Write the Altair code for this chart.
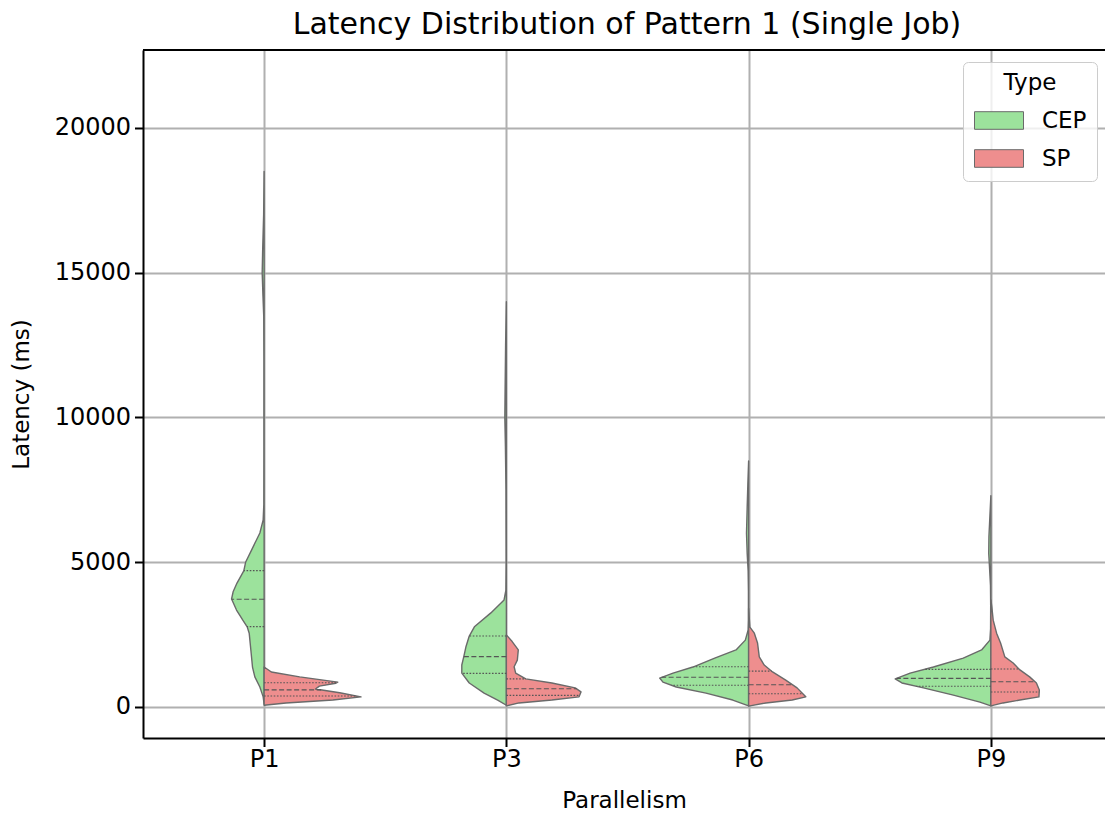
import json

import altair as alt
import numpy as np
import pandas as pd

categories = ["P1", "P3", "P6", "P9"]
types = ["CEP", "SP"]
type_colors = ["#9CE29C", "#EE8E8E"]

# Split-violin outlines: latency (ms) and relative kernel density (1 = widest half)
p1_cep_latency = [18500, 17000, 15800, 15000, 14200, 13500, 12000, 9000, 7000, 6460, 6010, 5420,
                  5010, 4700, 4280, 3980, 3730, 3350, 3000, 2770, 2550, 1970, 1380, 1040, 690, 350, 100]
p1_cep_density = [0, 0.005, 0.015, 0.02, 0.012, 0.004, 0.002, 0.002, 0.003, 0.01, 0.044, 0.13,
                  0.19, 0.21, 0.28, 0.32, 0.336, 0.285, 0.22, 0.175, 0.154, 0.137, 0.12, 0.096, 0.044, 0.01, 0]
p1_sp_latency = [1380, 1210, 1040, 860, 820, 720, 620, 490, 350, 240, 140, 60]
p1_sp_density = [0, 0.075, 0.367, 0.76, 0.74, 0.57, 0.53, 0.78, 1.0, 0.71, 0.226, 0]

p3_cep_latency = [14000, 12500, 11000, 10000, 9000, 7500, 5000, 4040, 3700, 3250, 2770, 2450,
                  2070, 1730, 1450, 1170, 830, 480, 240, 60]
p3_cep_density = [0, 0.008, 0.013, 0.016, 0.01, 0.004, 0.002, 0.005, 0.024, 0.16, 0.33, 0.383,
                  0.418, 0.44, 0.46, 0.46, 0.383, 0.23, 0.09, 0]
p3_sp_latency = [2490, 2260, 1970, 1620, 1390, 1170, 970, 830, 660, 520, 350, 240, 140, 40]
p3_sp_density = [0, 0.06, 0.123, 0.113, 0.08, 0.096, 0.2, 0.47, 0.71, 0.77, 0.75, 0.47, 0.13, 0]

p6_cep_latency = [8500, 7700, 6900, 6000, 5300, 4700, 4000, 3000, 2660, 2310, 1970, 1690, 1380,
                  1170, 1000, 860, 690, 480, 240, 40]
p6_cep_density = [0, 0.008, 0.015, 0.022, 0.015, 0.005, 0.002, 0.002, 0.005, 0.034, 0.13, 0.35, 0.575,
                  0.78, 0.918, 0.884, 0.747, 0.44, 0.164, 0]
p6_sp_latency = [3400, 3000, 2760, 2550, 2210, 1730, 1450, 1210, 930, 660, 350, 240, 140, 30]
p6_sp_density = [0, 0.008, 0.013, 0.059, 0.092, 0.11, 0.161, 0.247, 0.383, 0.5, 0.59, 0.45, 0.178, 0]

p9_cep_latency = [7300, 6600, 5900, 5300, 4700, 4200, 3500, 2700, 2310, 1970, 1690, 1380, 1170,
                  970, 830, 660, 410, 170, 40]
p9_cep_density = [0, 0.01, 0.02, 0.022, 0.012, 0.004, 0.002, 0.003, 0.01, 0.096, 0.285, 0.593, 0.833,
                  0.987, 0.918, 0.696, 0.387, 0.113, 0]
p9_sp_latency = [3700, 3450, 3000, 2550, 2210, 1730, 1520, 1280, 1040, 830, 590, 350, 240, 140, 40]
p9_sp_density = [0, 0.01, 0.024, 0.059, 0.1, 0.144, 0.23, 0.3, 0.4, 0.47, 0.5, 0.496, 0.3, 0.126, 0]

# Quartiles (Q1, median, Q3) in ms
p1_cep_quartiles = [2775, 3720, 4710]
p1_sp_quartiles = [380, 590, 840]
p3_cep_quartiles = [1160, 1740, 2450]
p3_sp_quartiles = [400, 630, 970]
p6_cep_quartiles = [750, 1025, 1390]
p6_sp_quartiles = [460, 770, 1240]
p9_cep_quartiles = [715, 990, 1300]
p9_sp_quartiles = [520, 870, 1310]

groups = [
    ("P1", "CEP", p1_cep_latency, p1_cep_density, p1_cep_quartiles),
    ("P1", "SP", p1_sp_latency, p1_sp_density, p1_sp_quartiles),
    ("P3", "CEP", p3_cep_latency, p3_cep_density, p3_cep_quartiles),
    ("P3", "SP", p3_sp_latency, p3_sp_density, p3_sp_quartiles),
    ("P6", "CEP", p6_cep_latency, p6_cep_density, p6_cep_quartiles),
    ("P6", "SP", p6_sp_latency, p6_sp_density, p6_sp_quartiles),
    ("P9", "CEP", p9_cep_latency, p9_cep_density, p9_cep_quartiles),
    ("P9", "SP", p9_sp_latency, p9_sp_density, p9_sp_quartiles),
]

HALF_WIDTH = 0.4          # widest half-violin, in category steps
PLOT_W, PLOT_H = 962, 688
STEP = 242.25             # pixels per category
X_MAX = -0.5 + PLOT_W / STEP
Y_DOMAIN = [-1071, 22694]
FONT = "DejaVu Sans"

area_rows, quart_rows = [], []
for cat, typ, lat, dens, quarts in groups:
    pos = categories.index(cat)
    sign = -1 if typ == "CEP" else 1
    order = np.argsort(lat)
    lat_sorted = np.asarray(lat, dtype=float)[order]
    dens_sorted = np.asarray(dens, dtype=float)[order]
    for l, d in zip(lat_sorted, dens_sorted):
        area_rows.append({"group": f"{cat}-{typ}", "type": typ, "latency": l,
                          "center": pos, "edge": pos + sign * d * HALF_WIDTH})
    for k, q in enumerate(quarts):
        w = float(np.interp(q, lat_sorted, dens_sorted)) * HALF_WIDTH
        quart_rows.append({"group": f"{cat}-{typ}", "latency": q, "center": pos,
                           "edge": pos + sign * w,
                           "kind": "median" if k == 1 else "quartile"})

area_df = pd.DataFrame(area_rows)
quart_df = pd.DataFrame(quart_rows)

x_scale = alt.Scale(domain=[-0.5, X_MAX], nice=False, zero=False)
y_scale = alt.Scale(domain=Y_DOMAIN, nice=False, zero=False)
label_expr = f"{json.dumps(categories)}[datum.value]"

x_axis = alt.Axis(values=[0, 1, 2, 3], labelExpr=label_expr, title="Parallelism",
                  titlePadding=18, labelPadding=1)
y_axis = alt.Axis(values=[0, 5000, 10000, 15000, 20000], format="d", title="Latency (ms)",
                  titlePadding=21)

# Wide rectangular legend swatch, drawn to the right of the symbol anchor
swatch = "M-1,-0.88L3.9,-0.88L3.9,0.88L-1,0.88Z"

legend = alt.Legend(
    orient="none", legendX=820, legendY=12, title="Type",
    titleFontSize=23, labelFontSize=23, titleFontWeight="normal",
    titleAnchor="middle", titleFont=FONT, labelFont=FONT,
    titleColor="black", labelColor="black",
    symbolType=swatch, symbolSize=400, symbolStrokeColor="#6a6a6a",
    symbolStrokeWidth=1, symbolOpacity=1, labelOffset=46, rowPadding=14,
    padding=10, fillColor="rgba(255,255,255,0.8)", strokeColor="#cccccc",
    cornerRadius=5, titlePadding=14,
)

violins = alt.Chart(area_df).mark_area(
    orient="horizontal", stroke="#6a6a6a", strokeWidth=1.4, strokeJoin="round", opacity=1
).encode(
    y=alt.Y("latency:Q", scale=y_scale, axis=y_axis),
    x=alt.X("edge:Q", scale=x_scale, axis=x_axis, stack=None),
    x2="center:Q",
    color=alt.Color("type:N", scale=alt.Scale(domain=types, range=type_colors), legend=legend),
    detail="group:N",
)

medians = alt.Chart(quart_df).transform_filter(alt.datum.kind == "median").mark_rule(
    color="#555555", strokeWidth=1.1, strokeDash=[5, 2.5]
).encode(y="latency:Q", x="center:Q", x2="edge:Q")

quartiles = alt.Chart(quart_df).transform_filter(alt.datum.kind == "quartile").mark_rule(
    color="#555555", strokeWidth=1.1, strokeDash=[1.6, 1.6]
).encode(y="latency:Q", x="center:Q", x2="edge:Q")

top_spine = alt.Chart(pd.DataFrame({"v": [0]})).mark_rule(color="black", strokeWidth=2).encode(
    x=alt.value(0), x2=alt.value(PLOT_W), y=alt.value(0)
)

chart = alt.layer(violins, medians, quartiles, top_spine).properties(
    width=PLOT_W, height=PLOT_H,
    title=alt.Title("Latency Distribution of Pattern 1 (Single Job)", fontSize=30,
                    fontWeight="normal", font=FONT, color="black",
                    anchor="middle", dx=3, offset=9),
    autosize=alt.AutoSizeParams(type="none"),
    padding={"left": 143, "top": 50, "right": 0, "bottom": 77},
).configure_view(stroke=None).configure_axis(
    zindex=1, grid=True, gridColor="#b0b0b0", gridWidth=2,
    domainColor="black", domainWidth=2, tickColor="black", tickWidth=2, tickSize=8.5,
    labelFontSize=24, titleFontSize=23, labelFont=FONT, titleFont=FONT,
    labelColor="black", titleColor="black", titleFontWeight="normal", labelPadding=4,
)

chart.save("out.html", embed_options={"renderer": "svg", "actions": False})
